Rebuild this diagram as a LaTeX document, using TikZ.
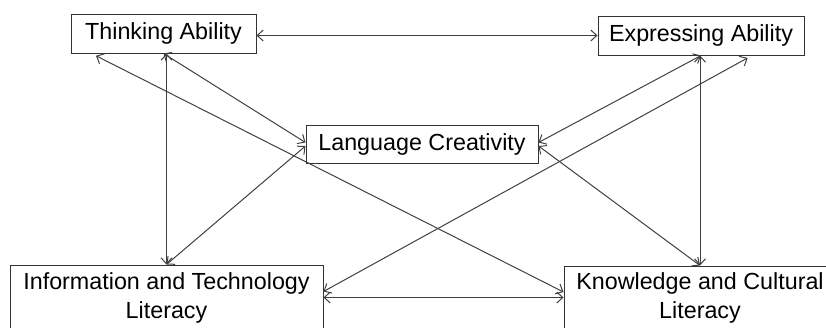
\documentclass[tikz,border=0pt]{standalone}
\usepackage{fontspec}
\setmainfont{Liberation Sans}
\usetikzlibrary{arrows.meta}
\tikzset{
  box/.style={draw=black!80, line width=1pt, inner sep=0pt, align=center,
    font=\fontsize{23.3}{29}\selectfont},
  link/.style={draw=black!75, line width=1pt,
    >={Straight Barb[length=6pt,width=11pt]}, <->}
}

\begin{document}
\begin{tikzpicture}[x=1pt,y=-1pt]
    \useasboundingbox (0,0) rectangle (826,327);
    % Abilities
    \node[box, minimum width=185pt, minimum height=39pt] (think) at (163.5,33.5) {Thinking Ability};
    \node[box, minimum width=206pt, minimum height=39pt] (express) at (701,35.5) {Expressing Ability};
    \node[box, minimum width=232pt, minimum height=38pt] (lang) at (422,144) {Language Creativity};
    % Literacies
    \node[box, minimum width=313pt, minimum height=65pt] (info) at (166.5,297.5) {Information and Technology\\Literacy};
    \node[box, minimum width=272pt, minimum height=64pt] (know) at (700,298) {Knowledge and Cultural\\Literacy};

    % Links
    \draw[link] (think.east |- express.west) -- (express.west);
    \draw[link] (info.north) -- (info.north |- think.south);
    \draw[link] (know.north) -- (know.north |- express.south);
    \draw[link] (info.east) -- (info.east -| know.west);
    \draw[link] (think.south) -- ([yshift=1.5pt]lang.west);
    \draw[link, shorten <=5pt] ([xshift=21pt]think.south west) -- ([yshift=6pt]know.west);
    \draw[link] (info.north) -- ([yshift=-2pt]lang.west);
    \draw[link, shorten >=5pt] ([yshift=6pt]info.east) -- ([xshift=51pt]express.south);
    \draw[link] ([yshift=1.5pt]lang.east) -- (express.south);
    \draw[link] ([yshift=-2pt]lang.east) -- (know.north);
\end{tikzpicture}
\end{document}
